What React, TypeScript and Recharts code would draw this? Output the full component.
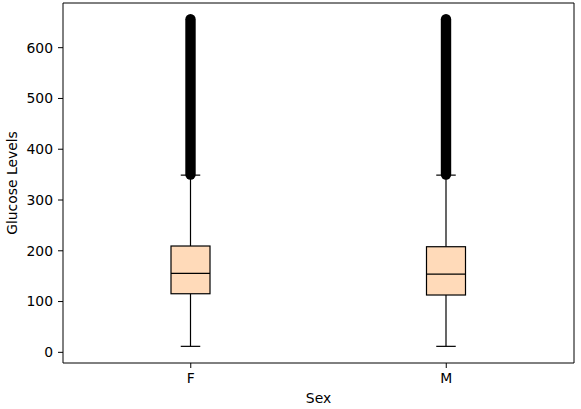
import React from 'react';
import { ComposedChart, Bar, XAxis, YAxis, Label, ReferenceLine } from 'recharts';

const categories = ['F', 'M'];
const whiskerLow = [11.8, 11.8];
const q1 = [115.4, 112.9];
const median = [155.6, 154.2];
const q3 = [209.4, 208.0];
const whiskerHigh = [349, 349];
const flierMin = [350, 350];
const flierMax = [656, 656];
const yTicks = [0, 100, 200, 300, 400, 500, 600];
const yDomain = [-21, 688];

const data = categories.map((c, i) => ({
  sex: c,
  range: [whiskerLow[i], flierMax[i]],
  lo: whiskerLow[i],
  q1: q1[i],
  med: median[i],
  q3: q3[i],
  hi: whiskerHigh[i],
  fmin: flierMin[i],
  fmax: flierMax[i],
}));

const FONT = '"DejaVu Sans", sans-serif';
const FS = 13.9;

const BoxShape = (props: any) => {
  const { x, y, width, height, payload } = props;
  const top = Math.min(y, y + height);
  const bot = Math.max(y, y + height);
  const [lo, hi] = payload.range;
  const px = (v: number) => bot - ((v - lo) / (hi - lo)) * (bot - top);
  const cx = x + width / 2;
  const r = 5.2;
  const capHalf = width / 4;
  return (
    <g>
      <rect
        x={cx - r}
        y={px(payload.fmax) - r}
        width={r * 2}
        height={px(payload.fmin) - px(payload.fmax) + 2 * r}
        rx={r}
        ry={r}
        fill="#000"
      />
      <line x1={cx} x2={cx} y1={px(payload.q3)} y2={px(payload.hi)} stroke="#000" strokeWidth={1.2} />
      <line x1={cx} x2={cx} y1={px(payload.q1)} y2={px(payload.lo)} stroke="#000" strokeWidth={1.2} />
      <line x1={cx - capHalf} x2={cx + capHalf} y1={px(payload.hi)} y2={px(payload.hi)} stroke="#000" strokeWidth={1.2} />
      <line x1={cx - capHalf} x2={cx + capHalf} y1={px(payload.lo)} y2={px(payload.lo)} stroke="#000" strokeWidth={1.2} />
      <rect
        x={x}
        y={px(payload.q3)}
        width={width}
        height={px(payload.q1) - px(payload.q3)}
        fill="#FFDAB9"
        stroke="#000"
        strokeWidth={1.2}
      />
      <line x1={x} x2={x + width} y1={px(payload.med)} y2={px(payload.med)} stroke="#000" strokeWidth={1.2} />
    </g>
  );
};

export default function App() {
  return (
    <div style={{ position: 'absolute', left: 0, top: 0, background: '#fff' }}>
      <ComposedChart
        width={581}
        height={409}
        data={data}
        margin={{ top: 2, right: 6, bottom: 0, left: 0 }}
        style={{ fontFamily: FONT }}
      >
        <XAxis
          dataKey="sex"
          height={46}
          tickSize={5}
          tickMargin={5}
          axisLine={{ stroke: '#000' }}
          tickLine={{ stroke: '#000' }}
          tick={{ fill: '#000', fontSize: FS, fontFamily: FONT }}
        >
          <Label value="Sex" position="insideBottom" offset={6} fill="#000" fontSize={FS} fontFamily={FONT} />
        </XAxis>
        <XAxis
          xAxisId="top"
          dataKey="sex"
          orientation="top"
          height={1}
          tick={false}
          tickLine={false}
          axisLine={{ stroke: '#000' }}
        />
        <YAxis
          width={63}
          domain={yDomain}
          ticks={yTicks}
          interval={0}
          tickSize={5}
          tickMargin={5}
          axisLine={{ stroke: '#000' }}
          tickLine={{ stroke: '#000' }}
          tick={{ fill: '#000', fontSize: FS, fontFamily: FONT }}
        >
          <Label
            value="Glucose Levels"
            position="center"
            angle={-90}
            dx={-19}
            fill="#000"
            fontSize={FS}
            fontFamily={FONT}
          />
        </YAxis>
        <YAxis
          yAxisId="right"
          orientation="right"
          width={1}
          domain={yDomain}
          tick={false}
          tickLine={false}
          axisLine={{ stroke: '#000' }}
        />
        <Bar dataKey="range" barSize={39} shape={BoxShape} isAnimationActive={false} />
      </ComposedChart>
    </div>
  );
}
